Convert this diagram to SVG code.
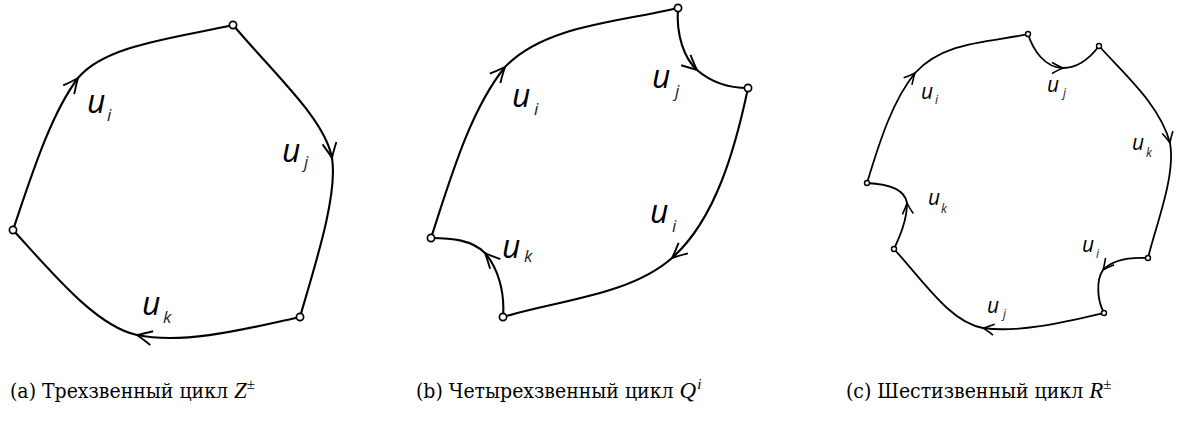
<svg xmlns="http://www.w3.org/2000/svg" width="1188" height="423" viewBox="0 0 1188 423">
<defs>
<style>
.e{fill:none;stroke:#000;stroke-width:2.1}
.ec{fill:none;stroke:#000;stroke-width:1.8}
.ab{marker-mid:url(#arrB)}
.as{marker-mid:url(#arrS)}
.n{fill:#fff;stroke:#000;stroke-width:1.7}
.ns{fill:#fff;stroke:#000;stroke-width:1.4}
.u{font-family:"Open Sans","DejaVu Sans",sans-serif;font-style:italic;font-size:32px;fill:#000}
.s{font-family:"Open Sans","DejaVu Sans",sans-serif;font-style:italic;font-size:17px;fill:#222}
.uc{font-family:"Open Sans","DejaVu Sans",sans-serif;font-style:italic;font-size:21px;fill:#000}
.sc{font-family:"Open Sans","DejaVu Sans",sans-serif;font-style:italic;font-size:12px;fill:#222}
.cap{font-family:"DejaVu Serif Condensed","DejaVu Serif","Liberation Serif",serif;font-stretch:condensed;font-size:21px;fill:#000}
.m{font-family:"Liberation Serif",serif;font-style:italic;font-size:23px}
.sup{font-family:"Liberation Serif",serif;font-size:15px}
.supi{font-family:"Liberation Serif",serif;font-style:italic;font-size:15px}
</style>
<marker id="arrB" markerUnits="userSpaceOnUse" orient="auto" refX="0" refY="0" markerWidth="30" markerHeight="30" overflow="visible">
<path d="M-15,-7 Q-5,-2 0,0 Q-5,2 -15,7" fill="none" stroke="#000" stroke-width="1.9"/>
</marker>
<marker id="arrS" markerUnits="userSpaceOnUse" orient="auto" refX="0" refY="0" markerWidth="30" markerHeight="30" overflow="visible">
<path d="M-11,-5.5 Q-4,-1.5 0,0 Q-4,1.5 -11,5.5" fill="none" stroke="#000" stroke-width="1.6"/>
</marker>
</defs>
<rect width="1188" height="423" fill="#fff"/>

<g id="connectors">
<!-- panel a -->
<path class="e ab" d="M13,230 C30,180 50,115 78,78 C105,45 175,38 233,25"/>
<path class="e ab" d="M233,25 C280,80 325,120 332,158 C338,195 315,265 300,317"/>
<path class="e ab" d="M300,317 C250,328 185,345 137,335 C95,326 50,270 13,230"/>
<!-- panel b -->
<path class="e ab" d="M431,238 C450,180 470,110 505,67 C545,25 620,22 678,8"/>
<path class="e ab" d="M678,8 C676,35 684,58 697,70 C712,83 730,88 748,88"/>
<path class="e ab" d="M748,88 C735,150 715,220 672,258 C630,295 560,300 503,317"/>
<path class="e ab" d="M503,317 C505,292 498,268 485,253 C472,240 452,238 431,238"/>
<!-- panel c -->
<path class="ec as" d="M867,183 C880,140 893,100 915,73 C945,40 995,42 1028,34"/>
<path class="ec as" d="M1028,34 C1033,50 1045,68 1063,68 C1078,68 1090,58 1099,46"/>
<path class="ec as" d="M1099,46 C1125,75 1160,105 1170,143 C1176,175 1156,225 1148,258"/>
<path class="ec as" d="M1148,258 C1130,257 1112,260 1103,270 C1096,280 1097,300 1104,313"/>
<path class="ec as" d="M1104,313 C1065,322 1020,333 983,328 C950,322 925,283 894,249"/>
<path class="ec as" d="M894,249 C900,236 907,220 907,203 C905,190 890,184 867,183"/>
</g>

<g id="a-nodes">
<circle id="a1" class="n" cx="233" cy="25" r="3.6"/>
<circle id="a2" class="n" cx="13" cy="230" r="3.6"/>
<circle id="a3" class="n" cx="300" cy="317" r="3.6"/>
</g>
<g id="b-nodes">
<circle id="b1" class="n" cx="678" cy="8" r="3.6"/>
<circle id="b2" class="n" cx="748" cy="88" r="3.6"/>
<circle id="b3" class="n" cx="431" cy="238" r="3.6"/>
<circle id="b4" class="n" cx="503" cy="317" r="3.6"/>
</g>
<g id="c-nodes">
<circle id="c1" class="ns" cx="1028" cy="34" r="2.5"/>
<circle id="c2" class="ns" cx="1099" cy="46" r="2.5"/>
<circle id="c3" class="ns" cx="867" cy="183" r="2.5"/>
<circle id="c4" class="ns" cx="894" cy="249" r="2.5"/>
<circle id="c5" class="ns" cx="1148" cy="258" r="2.5"/>
<circle id="c6" class="ns" cx="1104" cy="313" r="2.5"/>
</g>

<g id="labels">
<text class="u" x="87" y="113">u</text><text class="s" x="107" y="121">i</text>
<text class="u" x="282" y="162">u</text><text class="s" x="304" y="168">j</text>
<text class="u" x="142" y="315">u</text><text class="s" x="163" y="323">k</text>

<text class="u" x="512" y="107">u</text><text class="s" x="534" y="115">i</text>
<text class="u" x="652" y="88">u</text><text class="s" x="675" y="97">j</text>
<text class="u" x="650" y="223">u</text><text class="s" x="672" y="232">i</text>
<text class="u" x="502" y="258">u</text><text class="s" x="524" y="262">k</text>

<text class="uc" x="921" y="99">u</text><text class="sc" x="935" y="104">i</text>
<text class="uc" x="1047" y="92">u</text><text class="sc" x="1063" y="97">j</text>
<text class="uc" x="1132" y="150">u</text><text class="sc" x="1146" y="157">k</text>
<text class="uc" x="928" y="205">u</text><text class="sc" x="941" y="213">k</text>
<text class="uc" x="1082" y="252">u</text><text class="sc" x="1096" y="258">i</text>
<text class="uc" x="987" y="313">u</text><text class="sc" x="1003" y="318">j</text>
</g>

<g id="captions">
<text class="cap" x="10" y="398">(a) Трехзвенный цикл <tspan class="m">Z</tspan><tspan class="sup" dy="-9">±</tspan></text>
<text class="cap" x="416" y="398">(b) Четырехзвенный цикл <tspan class="m">Q</tspan><tspan class="supi" dx="1" dy="-9">i</tspan></text>
<text class="cap" x="846" y="398">(c) Шестизвенный цикл <tspan class="m">R</tspan><tspan class="sup" dy="-9">±</tspan></text>
</g>
</svg>
